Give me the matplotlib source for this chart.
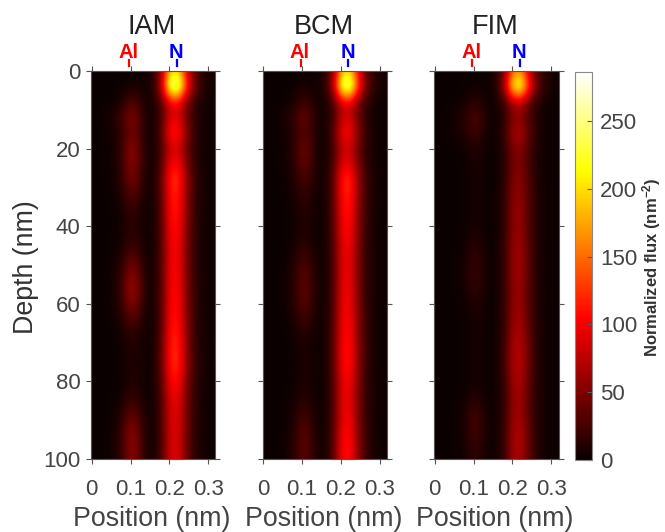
#!/usr/bin/env python3
"""
Normalized flux vs depth and position for IAM, BCM and FIM
"""

import numpy as np
import matplotlib
matplotlib.use('Agg')
import matplotlib.pyplot as plt

plt.rcParams['font.family'] = ['Liberation Sans', 'DejaVu Sans']
plt.rcParams['mathtext.default'] = 'regular'

W, H = 665, 532
GREY = '#555555'

# Columns: position (nm), rows: depth (nm), cells: flux (nm^-2)
positions = [0, .02, .04, .06, .08, .10, .12, .14, .16, .18, .20, .22, .24, .26, .28, .30, .32]
depths = [0, 4, 8, 12, 16, 20, 24, 28, 32, 36, 40, 44, 48, 52, 56, 60, 64, 68, 72, 76, 80, 84, 88, 92, 96, 100]

iam_flux = [
    [0, 0, 0, 0, 1, 2, 2, 3, 12, 60, 176, 200, 110, 40, 14, 6, 2],
    [0, 0, 0, 1, 2, 6, 5, 4, 17, 86, 250, 285, 157, 57, 20, 8, 3],
    [0, 0, 1, 3, 12, 30, 22, 4, 7, 30, 88, 100, 55, 20, 7, 3, 1],
    [0, 2, 5, 12, 28, 54, 38, 6, 7, 28, 84, 95, 52, 19, 7, 3, 1],
    [0, 1, 3, 7, 18, 42, 29, 5, 8, 36, 106, 120, 66, 24, 8, 4, 1],
    [0, 1, 2, 7, 24, 60, 42, 7, 6, 26, 77, 88, 48, 18, 6, 3, 1],
    [0, 1, 2, 6, 22, 54, 37, 6, 7, 33, 97, 110, 60, 22, 8, 3, 1],
    [0, 1, 2, 6, 19, 48, 33, 6, 9, 39, 114, 130, 72, 26, 9, 4, 1],
    [0, 0, 1, 4, 12, 30, 21, 4, 8, 36, 106, 120, 66, 24, 8, 4, 1],
    [0, 0, 1, 2, 7, 18, 12, 3, 7, 35, 104, 118, 65, 24, 8, 4, 1],
    [0, 0, 0, 2, 6, 14, 10, 3, 7, 34, 99, 112, 62, 22, 8, 3, 1],
    [0, 0, 1, 2, 7, 18, 12, 3, 6, 32, 95, 108, 59, 22, 8, 3, 1],
    [0, 0, 1, 5, 14, 36, 24, 5, 7, 32, 93, 106, 58, 21, 8, 3, 1],
    [0, 0, 2, 6, 22, 54, 37, 6, 7, 32, 95, 108, 59, 22, 8, 3, 1],
    [0, 0, 3, 8, 26, 66, 45, 8, 8, 33, 97, 110, 60, 22, 8, 3, 1],
    [0, 0, 2, 6, 22, 54, 37, 6, 7, 34, 99, 112, 62, 22, 8, 3, 1],
    [0, 0, 1, 4, 12, 30, 21, 4, 7, 34, 101, 115, 63, 23, 8, 4, 1],
    [0, 0, 0, 2, 6, 14, 10, 3, 7, 36, 106, 120, 66, 24, 8, 4, 1],
    [0, 0, 0, 1, 4, 10, 7, 2, 8, 38, 111, 126, 69, 25, 9, 4, 1],
    [0, 0, 0, 1, 4, 10, 7, 2, 8, 38, 110, 125, 69, 25, 9, 4, 1],
    [0, 0, 0, 1, 4, 10, 7, 2, 7, 34, 99, 112, 62, 22, 8, 3, 1],
    [0, 0, 1, 2, 7, 18, 12, 3, 6, 30, 88, 100, 55, 20, 7, 3, 1],
    [0, 0, 1, 5, 14, 36, 24, 5, 6, 29, 84, 96, 53, 19, 7, 3, 1],
    [0, 0, 2, 6, 22, 54, 37, 6, 6, 28, 83, 94, 52, 19, 6, 3, 1],
    [0, 0, 2, 7, 24, 60, 42, 7, 6, 28, 81, 92, 51, 18, 6, 3, 1],
    [0, 0, 2, 6, 22, 54, 37, 6, 6, 29, 84, 95, 52, 19, 7, 3, 1],
]

bcm_flux = [
    [0, 0, 0, 0, 1, 2, 2, 3, 12, 58, 172, 196, 108, 39, 14, 6, 2],
    [0, 0, 0, 1, 2, 6, 4, 4, 17, 84, 246, 280, 154, 56, 20, 8, 2],
    [0, 0, 1, 3, 9, 22, 15, 3, 6, 27, 79, 90, 50, 18, 6, 2, 1],
    [0, 2, 4, 10, 20, 41, 29, 5, 6, 25, 75, 85, 47, 17, 6, 2, 1],
    [0, 1, 2, 6, 14, 31, 22, 4, 7, 33, 97, 110, 60, 22, 8, 3, 1],
    [0, 1, 2, 5, 18, 43, 30, 5, 5, 25, 73, 83, 46, 17, 6, 2, 1],
    [0, 0, 1, 5, 15, 36, 25, 5, 6, 30, 88, 100, 55, 20, 7, 3, 1],
    [0, 0, 1, 4, 11, 26, 19, 4, 8, 37, 110, 125, 69, 25, 9, 4, 1],
    [0, 0, 1, 2, 7, 17, 12, 3, 7, 36, 106, 120, 66, 24, 8, 4, 1],
    [0, 0, 0, 2, 5, 12, 9, 2, 7, 34, 101, 115, 63, 23, 8, 3, 1],
    [0, 0, 0, 1, 4, 10, 7, 2, 7, 33, 97, 110, 60, 22, 8, 3, 1],
    [0, 0, 0, 2, 5, 13, 9, 2, 6, 31, 92, 104, 57, 21, 7, 3, 1],
    [0, 0, 1, 3, 10, 24, 17, 3, 6, 30, 88, 100, 55, 20, 7, 3, 1],
    [0, 0, 1, 4, 14, 34, 23, 4, 6, 30, 88, 100, 55, 20, 7, 3, 1],
    [0, 0, 1, 5, 15, 38, 26, 5, 6, 30, 90, 102, 56, 20, 7, 3, 1],
    [0, 0, 1, 4, 14, 34, 23, 4, 6, 31, 92, 104, 57, 21, 7, 3, 1],
    [0, 0, 1, 3, 9, 22, 15, 3, 6, 32, 95, 108, 59, 22, 8, 3, 1],
    [0, 0, 0, 1, 4, 11, 8, 2, 7, 33, 97, 110, 60, 22, 8, 3, 1],
    [0, 0, 0, 1, 3, 8, 6, 2, 7, 34, 100, 114, 63, 23, 8, 3, 1],
    [0, 0, 0, 1, 3, 8, 6, 2, 7, 34, 99, 112, 62, 22, 8, 3, 1],
    [0, 0, 0, 1, 3, 8, 6, 2, 6, 32, 92, 105, 58, 21, 7, 3, 1],
    [0, 0, 0, 2, 5, 12, 9, 2, 6, 30, 88, 100, 55, 20, 7, 3, 1],
    [0, 0, 1, 3, 9, 22, 15, 3, 6, 30, 90, 102, 56, 20, 7, 3, 1],
    [0, 0, 1, 4, 13, 32, 22, 4, 6, 32, 95, 108, 59, 22, 8, 3, 1],
    [0, 0, 1, 5, 15, 38, 26, 5, 7, 34, 99, 112, 62, 22, 8, 3, 1],
    [0, 0, 1, 4, 14, 34, 23, 4, 7, 34, 101, 115, 63, 23, 8, 4, 1],
]

fim_flux = [
    [0, 0, 0, 0, 1, 1, 1, 2, 10, 48, 140, 160, 88, 32, 11, 5, 2],
    [0, 0, 0, 1, 2, 3, 3, 3, 15, 74, 218, 250, 138, 50, 18, 8, 2],
    [0, 0, 1, 2, 6, 14, 10, 2, 5, 21, 62, 70, 39, 14, 5, 2, 1],
    [0, 2, 4, 8, 16, 30, 21, 3, 4, 16, 48, 55, 30, 11, 4, 2, 1],
    [0, 1, 3, 6, 11, 21, 15, 2, 4, 21, 62, 70, 39, 14, 5, 2, 1],
    [0, 0, 1, 2, 4, 10, 7, 2, 3, 16, 46, 52, 29, 10, 4, 2, 1],
    [0, 0, 0, 1, 3, 7, 5, 1, 3, 15, 44, 50, 28, 10, 4, 2, 1],
    [0, 0, 0, 1, 2, 6, 4, 1, 3, 16, 48, 55, 30, 11, 4, 2, 1],
    [0, 0, 0, 1, 2, 6, 4, 1, 4, 17, 51, 58, 32, 12, 4, 2, 1],
    [0, 0, 0, 1, 2, 6, 4, 1, 4, 18, 53, 60, 33, 12, 4, 2, 1],
    [0, 0, 0, 1, 2, 6, 4, 1, 4, 18, 53, 60, 33, 12, 4, 2, 1],
    [0, 0, 0, 2, 5, 12, 8, 1, 4, 19, 55, 62, 34, 12, 4, 2, 1],
    [0, 0, 1, 2, 7, 18, 12, 2, 4, 20, 57, 65, 36, 13, 5, 2, 1],
    [0, 0, 1, 2, 8, 19, 13, 2, 4, 20, 57, 65, 36, 13, 5, 2, 1],
    [0, 0, 1, 2, 7, 17, 12, 2, 4, 19, 55, 62, 34, 12, 4, 2, 1],
    [0, 0, 0, 1, 4, 10, 7, 1, 4, 19, 55, 62, 34, 12, 4, 2, 1],
    [0, 0, 0, 1, 3, 7, 5, 1, 4, 20, 57, 65, 36, 13, 5, 2, 1],
    [0, 0, 0, 1, 2, 6, 4, 1, 4, 21, 62, 70, 39, 14, 5, 2, 1],
    [0, 0, 0, 1, 2, 6, 4, 1, 5, 23, 67, 76, 42, 15, 5, 2, 1],
    [0, 0, 0, 1, 2, 6, 4, 1, 5, 23, 66, 75, 41, 15, 5, 2, 1],
    [0, 0, 0, 1, 2, 6, 4, 1, 4, 21, 62, 70, 39, 14, 5, 2, 1],
    [0, 0, 0, 1, 4, 10, 7, 1, 4, 19, 57, 65, 36, 13, 5, 2, 1],
    [0, 0, 1, 3, 10, 24, 16, 2, 4, 20, 57, 65, 36, 13, 5, 2, 1],
    [0, 0, 1, 3, 10, 26, 18, 3, 4, 21, 62, 70, 39, 14, 5, 2, 1],
    [0, 0, 1, 2, 8, 19, 13, 2, 4, 22, 64, 73, 40, 15, 5, 2, 1],
    [0, 0, 0, 2, 6, 14, 10, 2, 4, 21, 62, 70, 39, 14, 5, 2, 1],
]

panel_names = ['IAM', 'BCM', 'FIM']
panel_flux = [iam_flux, bcm_flux, fim_flux]
x_ticks = [0, 0.1, 0.2, 0.3]
x_tick_labels = ['0', '0.1', '0.2', '0.3']
y_ticks = [0, 20, 40, 60, 80, 100]
cbar_ticks = [0, 50, 100, 150, 200, 250]
flux_max = 286
al_pos = 0.096
n_pos = 0.219


def px_axes(fig, left, top, right, bottom):
    return fig.add_axes([left / W, 1 - bottom / H, (right - left) / W, (bottom - top) / H])


fig = plt.figure(figsize=(W / 100, H / 100), dpi=100)

lefts = [91, 262.5, 434]
dx = positions[1] - positions[0]
dd = depths[1] - depths[0]
extent = [positions[0] - dx / 2, positions[-1] + dx / 2, depths[-1] + dd / 2, depths[0] - dd / 2]

for i, (name, flux) in enumerate(zip(panel_names, panel_flux)):
    left = lefts[i]
    ax = px_axes(fig, left, 71, left + 124.5, 459)
    im = ax.imshow(np.array(flux), cmap='hot', vmin=0, vmax=flux_max, aspect='auto',
                   interpolation='bicubic', extent=extent, origin='upper')
    ax.set_xlim(-0.002, 0.319)
    ax.set_ylim(100, 0)
    ax.set_xticks(x_ticks)
    ax.set_xticklabels(x_tick_labels)
    ax.set_yticks(y_ticks)
    ax.tick_params(axis='both', direction='out', length=3.5, width=0.8, color=GREY,
                   labelcolor='#444444', labelsize=16, top=True, right=True)
    ax.tick_params(axis='x', pad=11)
    ax.tick_params(axis='y', pad=4)
    if i > 0:
        ax.set_yticklabels([])
    for spine in ax.spines.values():
        spine.set_color(GREY)
        spine.set_linewidth(0.8)

    # Atom column markers above the panel
    ax.plot([al_pos, al_pos], [-2.9, -1.3], color='red', lw=1.6, clip_on=False)
    ax.plot([n_pos, n_pos], [-2.9, -1.3], color='blue', lw=1.6, clip_on=False)
    fig.text((left + 37.5) / W, 1 - 53 / H, 'Al', color='red', fontsize=14.5, fontweight='bold',
             ha='center', va='center')
    fig.text((left + 85) / W, 1 - 53 / H, 'N', color='blue', fontsize=14.5, fontweight='bold',
             ha='center', va='center')
    fig.text((left + 61) / W, 1 - 27 / H, name, color='#222222', fontsize=19.5, ha='center', va='center')
    fig.text((left + 61) / W, 1 - 519 / H, 'Position (nm)', color='#444444', fontsize=19.3,
             ha='center', va='center')

fig.text(26 / W, 1 - 267 / H, 'Depth (nm)', color='#333333', fontsize=19.3, rotation=90,
         ha='center', va='center')

cax = px_axes(fig, 575, 72, 592, 460)
cbar = fig.colorbar(im, cax=cax)
cbar.set_ticks(cbar_ticks)
cbar.ax.tick_params(direction='in', length=3.5, width=0.8, color=GREY, labelcolor='#444444',
                    labelsize=16, pad=6)
cbar.outline.set_edgecolor('#888888')
cbar.outline.set_linewidth(0.8)
fig.text(652 / W, 1 - 267 / H, 'Normalized flux (nm$^{-2}$)', color='#333333', fontsize=12,
         fontweight='bold', rotation=90, ha='center', va='center')

fig.savefig('out.png', dpi=100)
